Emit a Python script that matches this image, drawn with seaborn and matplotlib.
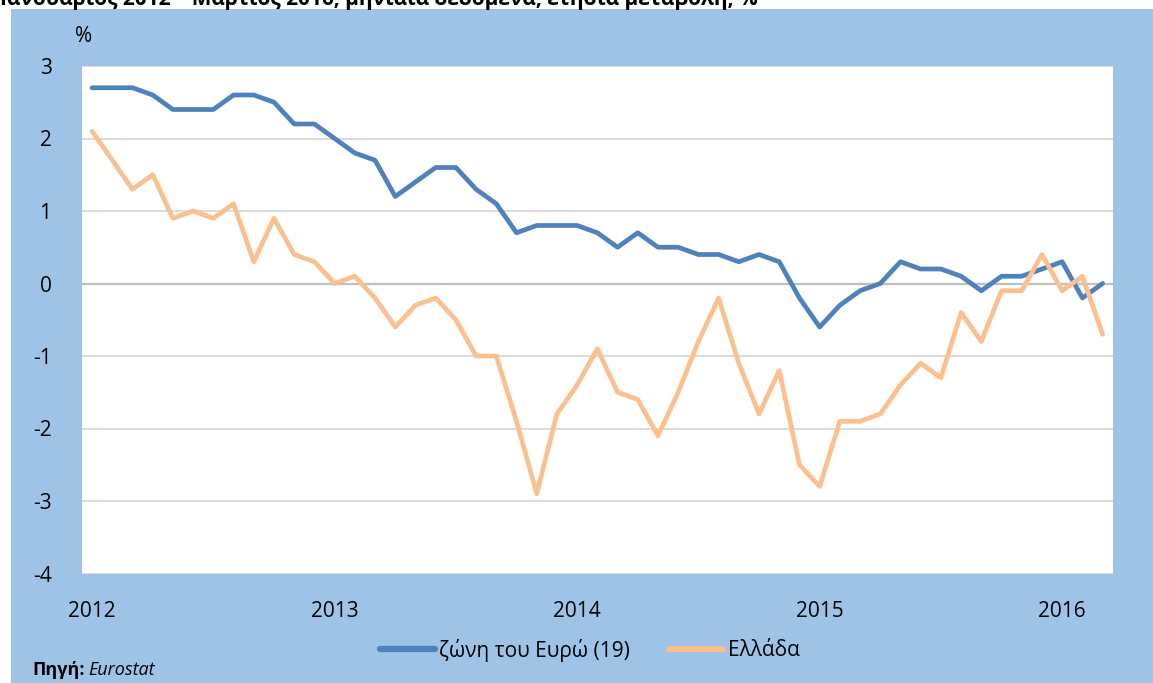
import numpy as np
import pandas as pd
import matplotlib
matplotlib.use("Agg")
import matplotlib.pyplot as plt
import seaborn as sns
from matplotlib.patches import Rectangle

# ΕνΔΤΚ, ετήσια μεταβολή (%), Ιαν 2012 - Μαρ 2016
years = ["2012", "2013", "2014", "2015", "2016"]
series_names = ["ζώνη του Ευρώ (19)", "Ελλάδα"]
euro_area = [2.7, 2.7, 2.7, 2.6, 2.4, 2.4, 2.4, 2.6, 2.6, 2.5, 2.2, 2.2,
             2.0, 1.8, 1.7, 1.2, 1.4, 1.6, 1.6, 1.3, 1.1, 0.7, 0.8, 0.8,
             0.8, 0.7, 0.5, 0.7, 0.5, 0.5, 0.4, 0.4, 0.3, 0.4, 0.3, -0.2,
             -0.6, -0.3, -0.1, 0.0, 0.3, 0.2, 0.2, 0.1, -0.1, 0.1, 0.1, 0.2,
             0.3, -0.2, 0.0]
greece = [2.1, 1.7, 1.3, 1.5, 0.9, 1.0, 0.9, 1.1, 0.3, 0.9, 0.4, 0.3,
          0.0, 0.1, -0.2, -0.6, -0.3, -0.2, -0.5, -1.0, -1.0, -1.9, -2.9, -1.8,
          -1.4, -0.9, -1.5, -1.6, -2.1, -1.5, -0.8, -0.2, -1.1, -1.8, -1.2, -2.5,
          -2.8, -1.9, -1.9, -1.8, -1.4, -1.1, -1.3, -0.4, -0.8, -0.1, -0.1, 0.4,
          -0.1, 0.1, -0.7]
y_ticks = [-4, -3, -2, -1, 0, 1, 2, 3]

n = len(euro_area)
df = pd.DataFrame({
    "month": list(range(n)) * 2,
    "value": euro_area + greece,
    "series": [series_names[0]] * n + [series_names[1]] * n,
})

sns.set_theme(style="white")
plt.rcParams["font.family"] = ["Open Sans", "DejaVu Sans"]
plt.rcParams["text.color"] = "black"

blue = "#4F81BD"
orange = "#FAC090"
bg = "#9DC3E6"

fig = plt.figure(figsize=(11.53, 6.83), dpi=100, facecolor="white")
# light blue panel behind the chart
fig.patches.append(Rectangle((11 / 1153, 0), 1, 1 - 9.3 / 683, transform=fig.transFigure,
                             facecolor=bg, edgecolor="none", zorder=-5))
ax = fig.add_axes([82 / 1153, 1 - 573.5 / 683, (1112.7 - 82) / 1153, (573.5 - 66) / 683])
ax.set_zorder(1)
ax.set_facecolor("white")

sns.lineplot(data=df, x="month", y="value", hue="series", hue_order=series_names,
             palette=[blue, orange], linewidth=3.4, ax=ax, solid_capstyle="round", legend=False)

ax.set_xlim(-0.5, n - 0.5)
ax.set_ylim(-4, 3)
ax.set_yticks(y_ticks)
ax.set_yticklabels([str(v) for v in y_ticks])
ax.set_xticks([0, 12, 24, 36, 48])
ax.set_xticklabels(years)
ax.tick_params(axis="both", length=0, labelsize=15, colors="black")
ax.tick_params(axis="y", pad=22)
ax.tick_params(axis="x", pad=20)
ax.set_xlabel("")
ax.set_ylabel("")
for v in y_ticks:
    ax.axhline(v, color="#D9D9D9", lw=1.3, zorder=0.5)
ax.axhline(0, color="#BFBFBF", lw=1.6, zorder=0.6)
for s in ax.spines.values():
    s.set_visible(False)

handles = ax.get_lines()[:2]
fig.legend(handles, series_names, loc="center", bbox_to_anchor=(590 / 1153, 1 - 650 / 683),
           ncol=2, frameon=False, fontsize=15, handlelength=2.6, handletextpad=0.2,
           columnspacing=1.9)
for h in fig.legends[0].get_lines():
    h.set_linewidth(4.5)

fig.text(83.5 / 1153, 1 - 37 / 683, "%", fontsize=15, ha="center", va="center")
fig.text(0, 1 - 4.5 / 683, "Ιανουάριος 2012 – Μάρτιος 2016, μηνιαία δεδομένα, ετήσια μεταβολή, %",
         fontsize=15, fontweight="bold", ha="left", va="baseline")
t1 = fig.text(32 / 1153, 1 - 670 / 683, "Πηγή:", fontsize=13, fontweight="bold", ha="left", va="center")
fig.canvas.draw()
bb = t1.get_window_extent()
fig.text(bb.x1 / fig.bbox.width + 4 / 1153, 1 - 670 / 683, "Eurostat", fontsize=13,
         style="italic", ha="left", va="center")

fig.savefig("out.png", dpi=100, facecolor="white")
